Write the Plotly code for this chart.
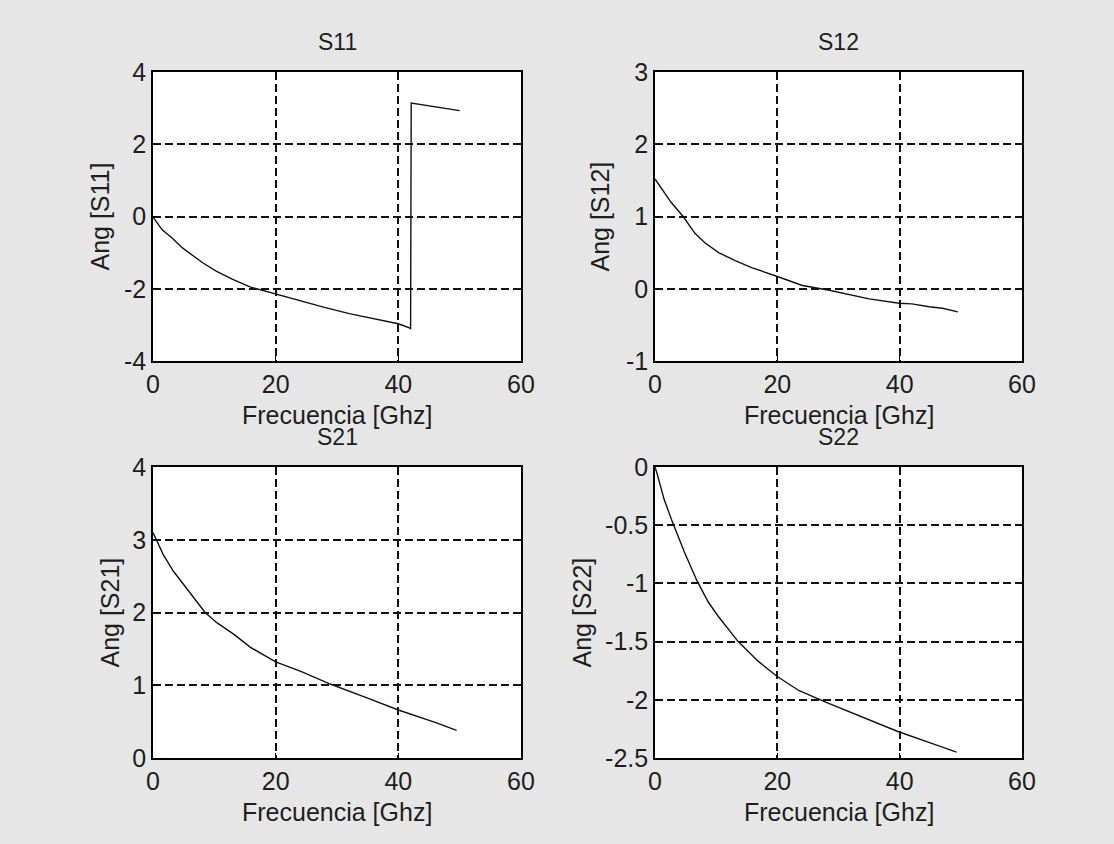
import plotly.graph_objects as go

# ---------------- data ----------------
s11_f = [0, 0.16, 1.5, 3.2, 4.8, 6.5, 8.1, 10.3, 13.0, 15.8, 20.0, 24.0, 27.8, 32.0, 34.8, 40.0, 41.9, 42.0, 42.1, 45.0, 50.0]
s11_v = [0, -0.05, -0.37, -0.61, -0.87, -1.07, -1.28, -1.51, -1.74, -1.95, -2.15, -2.33, -2.51, -2.69, -2.79, -2.97, -3.09, -3.12, 3.14, 3.06, 2.93]

s12_f = [0, 0.5, 1.6, 2.6, 4.6, 6.5, 8.1, 10.4, 13.1, 15.9, 20.0, 24.1, 28.5, 32.1, 35.0, 39.9, 42.0, 44.8, 47.0, 49.5]
s12_v = [1.52, 1.46, 1.32, 1.20, 1.00, 0.77, 0.64, 0.50, 0.39, 0.29, 0.17, 0.045, -0.02, -0.09, -0.14, -0.20, -0.21, -0.25, -0.27, -0.32]

s21_f = [0, 1.65, 3.3, 4.9, 6.6, 8.5, 10.4, 13.2, 15.9, 20.0, 24.1, 29.1, 35.1, 40.0, 46.0, 49.5]
s21_v = [3.10, 2.80, 2.57, 2.39, 2.21, 2.00, 1.86, 1.70, 1.52, 1.32, 1.19, 1.01, 0.82, 0.66, 0.49, 0.38]

s22_f = [0, 0.3, 1.5, 2.9, 4.8, 6.8, 8.7, 10.3, 13.6, 16.9, 20.0, 23.5, 27.9, 31.7, 34.1, 39.6, 45.0, 49.3]
s22_v = [0.0, -0.05, -0.28, -0.48, -0.73, -0.97, -1.16, -1.28, -1.50, -1.67, -1.80, -1.92, -2.02, -2.10, -2.15, -2.27, -2.37, -2.45]

titles = ["S11", "S12", "S21", "S22"]
ylabels = ["Ang [S11]", "Ang [S12]", "Ang [S21]", "Ang [S22]"]
xlabel = "Frecuencia [Ghz]"
xticks = [0, 20, 40, 60]
yticks = [
    [-4, -2, 0, 2, 4],
    [-1, 0, 1, 2, 3],
    [0, 1, 2, 3, 4],
    [-2.5, -2, -1.5, -1, -0.5, 0],
]
yticktext = [
    ["-4", "-2", "0", "2", "4"],
    ["-1", "0", "1", "2", "3"],
    ["0", "1", "2", "3", "4"],
    ["-2.5", "-2", "-1.5", "-1", "-0.5", "0"],
]
series = [(s11_f, s11_v), (s12_f, s12_v), (s21_f, s21_v), (s22_f, s22_v)]

# ---------------- layout ----------------
W, H = 1114, 844
xdoms = [[153 / W, 521 / W], [655 / W, 1022 / W]]
ydoms = [[1 - 361 / H, 1 - 72 / H], [1 - 758 / H, 1 - 467 / H]]
ylab_offset = [54, 56, 44, 74]   # px left of the axis, centre of y title
FONT = "Liberation Sans"
TXT = "#1e1e1e"
FS = 25

fig = go.Figure()
layout = dict(
    width=W, height=H,
    margin=dict(l=0, r=0, t=0, b=0, autoexpand=False),
    paper_bgcolor="#e6e6e6",
    plot_bgcolor="white",
    showlegend=False,
    font=dict(family=FONT, size=FS, color=TXT),
    annotations=[],
)

for i, (f, v) in enumerate(series):
    r, c = divmod(i, 2)
    n = "" if i == 0 else str(i + 1)
    fig.add_trace(go.Scatter(x=f, y=v, mode="lines", xaxis="x" + n, yaxis="y" + n,
                             line=dict(color="#111111", width=1.4)))
    common = dict(
        showline=True, linecolor="black", linewidth=1.6, mirror=True,
        showgrid=True, gridcolor="#111111", gridwidth=1.6, griddash="8px,4px",
        zeroline=False, ticks="inside", ticklen=5, tickcolor="black",
        tickfont=dict(size=FS, color=TXT), automargin=False,
    )
    layout["xaxis" + n] = dict(
        domain=xdoms[c], anchor="y" + n, range=[0, 60],
        tickvals=xticks, ticktext=[str(t) for t in xticks], **common)
    layout["yaxis" + n] = dict(
        domain=ydoms[r], anchor="x" + n, range=[yticks[i][0], yticks[i][-1]],
        tickvals=yticks[i], ticktext=yticktext[i], **common)
    # subplot title
    layout["annotations"].append(dict(
        text=titles[i], x=sum(xdoms[c]) / 2, y=ydoms[r][1], xref="paper", yref="paper",
        xanchor="center", yanchor="middle", yshift=30, showarrow=False,
        font=dict(size=23, color=TXT)))
    # x title
    layout["annotations"].append(dict(
        text=xlabel, x=sum(xdoms[c]) / 2, y=ydoms[r][0], xref="paper", yref="paper",
        xanchor="center", yanchor="middle", yshift=-54, showarrow=False,
        font=dict(size=FS, color=TXT)))
    # y title
    layout["annotations"].append(dict(
        text=ylabels[i], x=xdoms[c][0], y=sum(ydoms[r]) / 2, xref="paper", yref="paper",
        xanchor="center", yanchor="middle", xshift=-ylab_offset[i], textangle=-90,
        showarrow=False, font=dict(size=FS, color=TXT)))

fig.update_layout(**layout)
fig.write_html("out.html")
